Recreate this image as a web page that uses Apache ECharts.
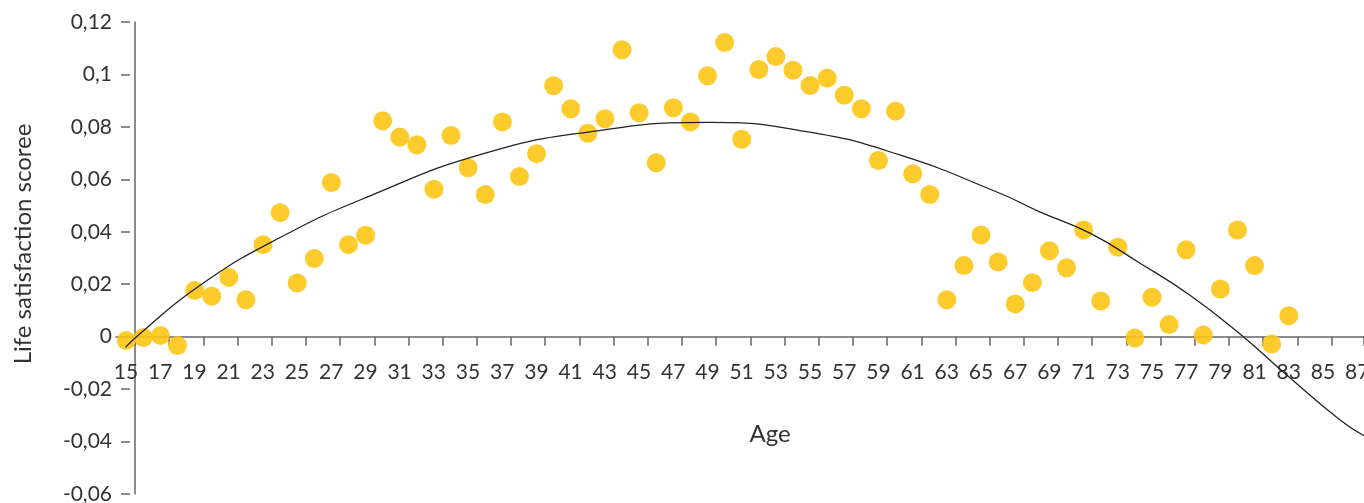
<!DOCTYPE html>
<html>
<head>
<meta charset="utf-8">
<script src="https://cdn.jsdelivr.net/npm/echarts@6/dist/echarts.min.js"></script>
<style>
  html, body { margin: 0; padding: 0; background: #fff; }
  #chart { width: 1364px; height: 503px; }
</style>
</head>
<body>
<div id="chart"></div>
<script>
  // ages 15..83, one dot each
  var ages = []
  for (var a = 15; a <= 83; a++) ages.push(a)

  var satisfaction = [
    -0.0015, -0.0003, 0.0004, -0.0034, 0.0176, 0.0154, 0.0226, 0.0141, 0.0351, 0.0473,
    0.0205, 0.0298, 0.0588, 0.0351, 0.0387, 0.0823, 0.0761, 0.0732, 0.0562, 0.0767,
    0.0644, 0.0542, 0.0819, 0.0611, 0.0698, 0.0957, 0.0869, 0.0776, 0.0831, 0.1094,
    0.0854, 0.0663, 0.0873, 0.0819, 0.0995, 0.1122, 0.0753, 0.1019, 0.1068, 0.1016,
    0.0958, 0.0986, 0.0921, 0.0869, 0.0672, 0.0860, 0.0621, 0.0542, 0.0141, 0.0271,
    0.0388, 0.0285, 0.0125, 0.0206, 0.0328, 0.0263, 0.0407, 0.0136, 0.0341, -0.0005,
    0.0150, 0.0046, 0.0331, 0.0006, 0.0182, 0.0407, 0.0271, -0.0028, 0.0080
  ]

  // trend line
  var trendAges = [14.95, 15.6, 19.3, 24.0, 29.3, 35.9, 42.2, 49.0, 54.8, 60.2, 66.1,
    68.4, 71.4, 74.3, 77.2, 80.1, 83.0, 86.0, 87.4]
  var trendValues = [-0.0041, 0, 0.0195, 0.0378, 0.0538, 0.0698, 0.0782, 0.0817, 0.0782,
    0.0694, 0.0547, 0.0477, 0.0394, 0.0280, 0.0159, 0.0013, -0.0153, -0.0318, -0.0378]

  var yTicks = [-0.06, -0.04, -0.02, 0, 0.02, 0.04, 0.06, 0.08, 0.1, 0.12]

  var font = 'Lato'
  var axisColor = '#666'
  var textColor = '#333'

  // plot box: y from 22 to 494, so the zero line sits this far above the bottom edge
  var plotTop = 22, plotBottom = 494
  var yMin = yTicks[0], yMax = yTicks[yTicks.length - 1]
  var zeroShift = -(plotBottom - plotTop) * (0 - yMin) / (yMax - yMin)

  function fmtY(v) {
    var r = Math.round(v * 100) / 100
    return String(r).replace('.', ',')
  }

  function fmtX(v) {
    var r = Math.round(v)
    return (Math.abs(v - r) < 1e-6 && r % 2 === 1) ? String(r) : ''
  }

  function yAxisFor(grid, extra) {
    return Object.assign({
      type: 'value', gridIndex: grid, min: yMin, max: yMax, interval: 0.02,
      axisLine: { show: false }, axisTick: { show: false },
      axisLabel: { show: false }, splitLine: { show: false }
    }, extra || {})
  }

  var pairs = ages.map(function (a, i) { return [a, satisfaction[i]] })
  var trend = trendAges.map(function (a, i) { return [a, trendValues[i]] })

  var gridBase = { right: 0, top: plotTop, bottom: 503 - plotBottom, outerBoundsMode: 'none' }

  var chart = echarts.init(document.getElementById('chart'))
  chart.setOption({
    animation: false,
    grid: [
      Object.assign({ left: 116 }, gridBase),   // data + x line
      Object.assign({ left: 135 }, gridBase),   // x ticks + y line
      Object.assign({ left: 126 }, gridBase)    // labels
    ],
    xAxis: [{
      type: 'value', gridIndex: 0, min: 14.4, max: 87.4, offset: zeroShift,
      axisLine: { onZero: false, lineStyle: { color: axisColor, width: 1.5 } },
      axisTick: { show: false }, axisLabel: { show: false }, splitLine: { show: false }
    }, {
      type: 'value', gridIndex: 1, min: 15.5, max: 87.4, interval: 2, offset: zeroShift,
      axisLine: { show: false, onZero: false },
      axisTick: { show: true, length: 9, lineStyle: { color: axisColor, width: 1.5 } },
      axisLabel: { show: false }, splitLine: { show: false }
    }, {
      type: 'value', gridIndex: 2, min: 15, max: 87.4, interval: 2, offset: zeroShift,
      axisLine: { show: false, onZero: false },
      axisTick: { show: false }, splitLine: { show: false },
      axisLabel: {
        margin: 25, color: textColor, fontFamily: font, fontSize: 21,
        formatter: fmtX
      },
      name: 'Age', nameLocation: 'middle', nameGap: 86, nameMoveOverlap: false,
      nameTextStyle: { color: textColor, fontFamily: font, fontSize: 24, padding: [0, 0, 0, 50] }
    }],
    yAxis: [yAxisFor(0), yAxisFor(1, {
      axisLine: { show: true, onZero: false, lineStyle: { color: axisColor, width: 1.5 } }
    }), yAxisFor(2, {
      offset: -4,
      axisTick: { show: true, length: 9, lineStyle: { color: axisColor, width: 1.5 } },
      axisLabel: { margin: 18, color: textColor, fontFamily: font, fontSize: 21, formatter: fmtY },
      name: 'Life satisfaction scoree', nameLocation: 'middle', nameGap: 95, nameMoveOverlap: false,
      nameTextStyle: { color: textColor, fontFamily: font, fontSize: 24, padding: [0, 0, 0, 28] }
    })],
    series: [{
      type: 'scatter', xAxisIndex: 0, yAxisIndex: 0,
      symbolSize: 19,
      itemStyle: { color: '#FDC615', opacity: 0.9 },
      data: pairs, z: 2
    }, {
      type: 'line', xAxisIndex: 0, yAxisIndex: 0,
      smooth: true, showSymbol: false, symbol: 'none',
      lineStyle: { color: '#222', width: 1.3 },
      data: trend, z: 3
    }]
  })
</script>
</body>
</html>
